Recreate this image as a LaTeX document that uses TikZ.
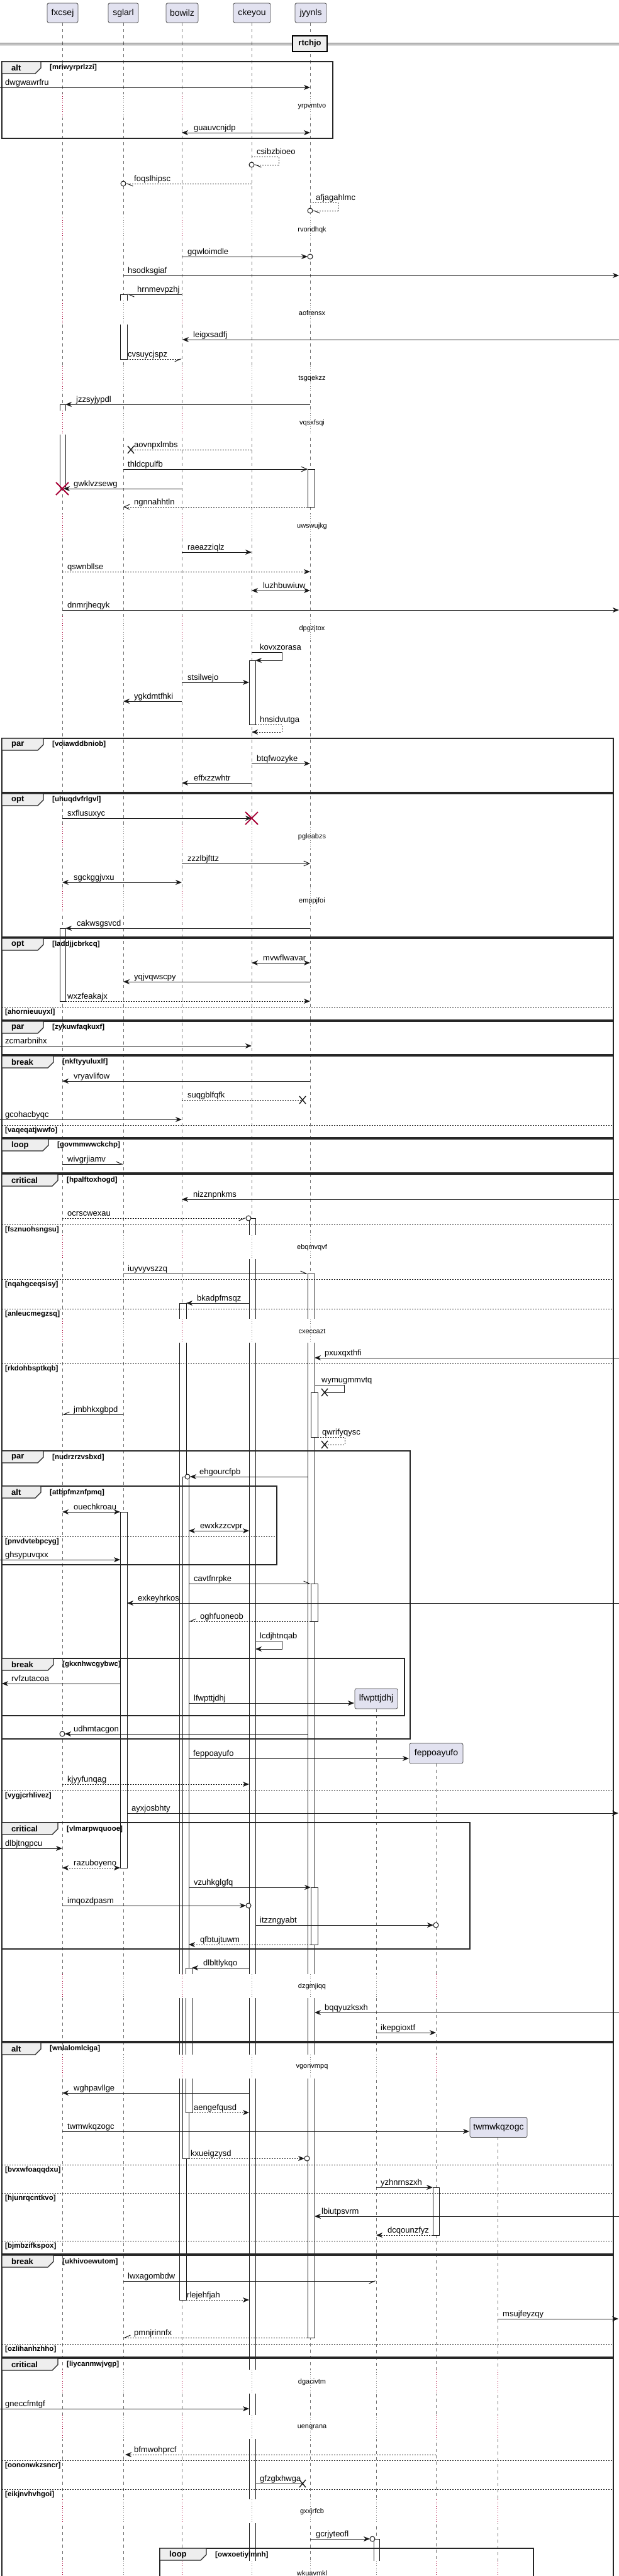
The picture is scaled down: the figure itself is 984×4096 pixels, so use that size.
\documentclass[tikz,border=0pt]{standalone}
\usepackage{fontspec}
\setmainfont{Liberation Sans}
\usetikzlibrary{arrows.meta}
\definecolor{plred}{HTML}{A80036}
\definecolor{pbox}{HTML}{E2E2F0}
\definecolor{tabg}{HTML}{EEEEEE}
\definecolor{ink}{HTML}{181818}
\newcounter{mc}
\newcommand\msgl[6]{\draw[msg,#4] (#1,#3) -- (#2,#3);\stepcounter{mc}\node[lbl] (lab\arabic{mc}) at (#5,#3-4) {#6};}
\newcommand\selfm[8]{\draw[msg,#6] (#1,#3) -- (#2,#3) -- (#2,#4) -- (#5,#4);\stepcounter{mc}\node[lbl] (lab\arabic{mc}) at (#7,#3-4) {#8};}
\newcommand\frm[7]{\draw[frm] (#1,#3) rectangle (#2,#4);
 \draw[tabsh] (#1,#3) -- ++(#5,0) -- ++(0,10) -- ++(-9,9) -- (#1,#3+19) -- cycle;
 \stepcounter{mc}\node[tabt] (tab\arabic{mc}) at (#1+15,#3+10) {#6};
 \node[condt] (cond\arabic{mc}) at (#1+#5+14,#3+10) {#7};}
\newcommand\sepl[4]{\draw[sepst] (#1,#3) -- (#2,#3);\stepcounter{mc}\node[condt] (sep\arabic{mc}) at (8,#3+8.5) {#4};}
\newcommand\actv[4]{\draw[act] (#1,#3) rectangle (#2,#4);}
\newcommand\band[3]{\foreach \px/\pw/\pc in #2 {\fill[white] (\px-12,#1-20) rectangle (\px+\pw,#1+18);\draw[dotl,\pc] (\px,#1-20) -- (\px,#1+18);}
 \stepcounter{mc}\node[dlyt] (dly\arabic{mc}) at (496,#1) {#3};}
\newcommand\xmark[2]{\draw[xx] (#1-5,#2-6) -- (#1+5,#2+6) (#1-5,#2+6) -- (#1+5,#2-6);}
\newcommand\rxmark[2]{\draw[rx] (#1-10,#2-10) -- (#1+10,#2+10) (#1-10,#2+10) -- (#1+10,#2-10);}
\def\bfive{99/13/dred,196/13/dgray,289/18/dred,400/13/dgray,493/17/dgray}
\def\bseven{99/13/dred,196/13/dgray,289/18/dred,400/13/dgray,493/17/dgray,598/13/dgray,693/13/dred}
\def\beight{99/13/dred,196/13/dgray,289/18/dred,400/13/dgray,493/17/dgray,598/13/dgray,693/13/dred,791/13/dred}
\begin{document}
\begin{tikzpicture}[x=1pt,y=-1pt,
 msg/.style={draw=ink,line width=1pt},
 dsh/.style={dash pattern=on 2pt off 2pt},
 fa/.style={-{Stealth[length=10pt,width=8pt,inset=3pt]}},
 bi/.style={{Stealth[length=10pt,width=8pt,inset=3pt]}-{Stealth[length=10pt,width=8pt,inset=3pt]}},
 oa/.style={-{Straight Barb[length=9pt,width=8pt]}},
 hl/.style={-{Straight Barb[length=9pt,width=8pt,left]}},
 hr/.style={-{Straight Barb[length=9pt,width=8pt,right]}},
 lbl/.style={anchor=base west,inner sep=0pt,font=\fontsize{13}{15}\selectfont},
 dlyt/.style={inner sep=0pt,font=\fontsize{11}{13}\selectfont},
 frm/.style={draw=black!85,line width=1.5pt},
 tabsh/.style={draw=black!85,line width=1.2pt,fill=tabg},
 tabt/.style={anchor=west,inner sep=0pt,font=\fontsize{13}{15}\selectfont\bfseries},
 condt/.style={anchor=west,inner sep=0pt,font=\fontsize{11.5}{13}\selectfont\bfseries},
 sepst/.style={draw=black!85,line width=1pt,dash pattern=on 2pt off 2pt},
 life/.style={draw=black!55,line width=0.6pt,dash pattern=on 5pt off 5pt},
 act/.style={draw=ink,line width=0.8pt,fill=white},
 part/.style={draw=black!70,line width=0.8pt,fill=pbox,rounded corners=2.5pt,minimum height=31pt,inner sep=0pt,font=\fontsize{14}{16}\selectfont},
 dotl/.style={line width=0.9pt,dash pattern=on 1pt off 2.5pt},
 dred/.style={draw=plred}, dgray/.style={draw=black!50},
 circ/.style={draw=ink,line width=1pt,fill=white},
 xx/.style={draw=ink,line width=1.4pt},
 rx/.style={draw=plred,line width=1.8pt}]
\useasboundingbox (0,0) rectangle (984,4096);
\fill[white] (0,0) rectangle (984,4096);
% lifelines
\foreach \lx in {99,196,289,400,493} {\draw[life] (\lx,36) -- (\lx,4110);}
\draw[life] (598,2717) -- (598,4110);
\draw[life] (693,2804) -- (693,4110);
\draw[life] (791,3398) -- (791,4110);
% activations
\actv{191}{202}{468}{571}
\actv{95}{104}{643}{777}
\actv{489}{500}{746}{806}
\actv{396}{406}{1050}{1152}
\actv{95}{104}{1476}{1592}
\actv{396}{406}{1937}{4110}
\actv{489}{500}{2025}{3717}
\actv{285}{296}{2072}{3657}
\actv{494}{505}{2214}{2285}
\actv{290}{300}{2348}{3432}
\actv{191}{202}{2404}{2970}
\actv{494}{505}{2518}{2578}
\actv{494}{505}{3001}{3092}
\actv{295}{305}{3129}{3359}
\actv{688}{698}{3478}{3554}
\actv{594}{603}{4037}{4110}
% delays
\band{169}{\bfive}{yrpvmtvo}
\band{366}{\bfive}{rvondhqk}
\band{498}{\bfive}{aofrensx}
\band{602}{\bfive}{tsgqekzz}
\band{673}{\bfive}{vqsxfsqi}
\band{837}{\bfive}{uwswujkg}
\band{1000}{\bfive}{dpgzjtox}
\band{1331}{\bfive}{pgleabzs}
\band{1433}{\bfive}{emppjfoi}
\band{1984}{\bfive}{ebqmvqvf}
\band{2117}{\bfive}{cxeccazt}
\band{3159}{\bseven}{dzgmjiqq}
\band{3287}{\bseven}{vgonvmpq}
\band{3788}{\beight}{dgacivtm}
\band{3860}{\beight}{uenqrana}
\band{3994}{\beight}{gxxjrfcb}
\band{4092}{\beight}{wkuavmkl}
% frames
\frm{3}{529}{98}{220}{62}{alt}{[mriwyrprlzzi]}
\frm{3}{975}{1174}{1260}{66}{par}{[voiawddbniob]}
\frm{3}{975}{1262}{1490}{66}{opt}{[uhuqdvfrlgvl]}
\frm{3}{975}{1492}{1622}{66}{opt}{[laddjjcbrkcq]}
\sepl{3}{975}{1601}{[ahornieuuyxl]}
\frm{3}{975}{1624}{1677}{66}{par}{[zykuwfaqkuxf]}
\frm{3}{975}{1679}{1809}{82}{break}{[nkftyyuluxlf]}
\sepl{3}{975}{1789}{[vaqeqatjwwfo]}
\frm{3}{975}{1811}{1865}{74}{loop}{[govmmwwckchp]}
\frm{3}{975}{1867}{3246}{89}{critical}{[hpalftoxhogd]}
\sepl{3}{975}{1947}{[fsznuohsngsu]}
\sepl{3}{975}{2034}{[nqahgceqsisy]}
\sepl{3}{975}{2081}{[anleucmegzsq]}
\sepl{3}{975}{2168}{[rkdohbsptkqb]}
\sepl{3}{975}{2847}{[vygjcrhlivez]}
\frm{3}{652}{2307}{2765}{66}{par}{[nudrzrzvsbxd]}
\frm{3}{440}{2363}{2488}{62}{alt}{[atbpfmznfpmq]}
\sepl{3}{440}{2443}{[pnvdvtebpcyg]}
\frm{3}{643}{2637}{2728}{82}{break}{[gkxnhwcgybwc]}
\frm{3}{747}{2898}{3099}{89}{critical}{[vlmarpwquooe]}
\frm{3}{975}{3248}{3584}{62}{alt}{[wnlalomlciga]}
\sepl{3}{975}{3442}{[bvxwfoaqqdxu]}
\sepl{3}{975}{3487}{[hjunrqcntkvo]}
\sepl{3}{975}{3563}{[bjmbzifkspox]}
\frm{3}{975}{3586}{3748}{82}{break}{[ukhivoewutom]}
\sepl{3}{975}{3727}{[ozlihanhzhho]}
\frm{3}{975}{3750}{4120}{89}{critical}{[liycanmwjvgp]}
\sepl{3}{975}{3912}{[oononwkzsncr]}
\sepl{3}{975}{3958}{[eikjnvhvhgoi]}
\frm{254}{848}{4052}{4120}{74}{loop}{[owxoetiylmnh]}
% participants
\node[part,minimum width=49pt] (fxcsej) at (99.5,20.5) {fxcsej};
\node[part,minimum width=48pt] (sglarl) at (196,20.5) {sglarl};
\node[part,minimum width=51pt] (bowilz) at (289.5,20.5) {bowilz};
\node[part,minimum width=59pt] (ckeyou) at (400.5,20.5) {ckeyou};
\node[part,minimum width=50pt] (jyynls) at (494,20.5) {jyynls};
\node[part,minimum width=68pt,minimum height=32pt] (lfwpttjdhj) at (598,2701) {lfwpttjdhj};
\node[part,minimum width=85pt,minimum height=32pt] (feppoayufo) at (693.5,2788) {feppoayufo};
\node[part,minimum width=91pt,minimum height=32pt] (twmwkqzogc) at (792.5,3382.5) {twmwkqzogc};
% divider
\draw[draw=ink,line width=1pt] (0,68) -- (984,68) (0,71.5) -- (984,71.5);
\node[draw=black,line width=1.5pt,fill=tabg,minimum width=55pt,minimum height=25pt,inner sep=0pt,font=\fontsize{13}{15}\selectfont\bfseries] (rtchjo) at (492.5,69.5) {rtchjo};
% messages
\msgl{0}{493}{139}{fa}{8}{dwgwawrfru}
\msgl{289}{493}{211}{bi}{308}{guauvcnjdp}
\selfm{400}{443}{249}{262}{404}{dsh,hl}{408}{csibzbioeo}
\draw[circ] (400,262) circle (4);
\msgl{400}{200}{292}{dsh,hl}{213}{foqslhipsc}
\draw[circ] (196,292) circle (4);
\selfm{493}{537}{322}{335}{497}{dsh,hl}{502}{afjagahlmc}
\draw[circ] (493,335) circle (4);
\msgl{289}{489}{408}{fa}{298}{gqwloimdle}
\draw[circ] (493,408) circle (4);
\msgl{196}{984}{438}{fa}{203}{hsodksgiaf}
\msgl{289}{202}{468}{hl}{218}{hrnmevpzhj}
\msgl{984}{290}{540}{fa}{307}{leigxsadfj}
\msgl{202}{289}{571}{dsh,hr}{203}{cvsuycjspz}
\msgl{493}{104}{643}{fa}{121}{jzzsyjypdl}
\msgl{400}{208}{715}{dsh}{213}{aovnpxlmbs}
\xmark{208}{715}
\msgl{196}{489}{746}{oa}{203}{thldcpulfb}
\msgl{289}{101}{777}{fa}{117}{gwklvzsewg}
\rxmark{99}{777}
\msgl{489}{196}{806}{dsh,oa}{213}{ngnnahhtln}
\msgl{289}{400}{878}{fa}{298}{raeazziqlz}
\msgl{99}{493}{909}{dsh,fa}{107}{qswnbllse}
\msgl{400}{493}{939}{bi}{418}{luzhbuwiuw}
\msgl{99}{984}{970}{fa}{107}{dnmrjheqyk}
\selfm{400}{448}{1037}{1050}{406}{fa}{413}{kovxzorasa}
\msgl{289}{396}{1085}{fa}{298}{stsilwejo}
\msgl{289}{196}{1115}{fa}{213}{ygkdmtfhki}
\selfm{406}{448}{1152}{1164}{400}{dsh,fa}{413}{hnsidvutga}
\msgl{400}{493}{1214}{fa}{408}{btqfwozyke}
\msgl{400}{289}{1245}{fa}{308}{effxzzwhtr}
\msgl{99}{400}{1301}{fa}{107}{sxflusuxyc}
\rxmark{400}{1301}
\msgl{289}{493}{1373}{oa}{298}{zzzlbjfttz}
\msgl{99}{289}{1403}{bi}{117}{sgckggjvxu}
\msgl{493}{104}{1476}{fa}{122}{cakwsgsvcd}
\msgl{400}{493}{1531}{bi}{418}{mvwflwavar}
\msgl{493}{196}{1561}{fa}{213}{yqjvqwscpy}
\msgl{104}{493}{1592}{dsh,fa}{107}{wxzfeakajx}
\msgl{0}{400}{1663}{fa}{8}{zcmarbnihx}
\msgl{493}{99}{1719}{fa}{117}{vryavlifow}
\msgl{289}{481}{1749}{dsh}{298}{suqgblfqfk}
\xmark{481}{1749}
\msgl{0}{289}{1780}{fa}{8}{gcohacbyqc}
\msgl{99}{196}{1851}{hl}{107}{wivgrjiamv}
\msgl{984}{289}{1907}{fa}{307}{nizznpnkms}
\msgl{99}{391}{1937}{dsh,hr}{107}{ocrscwexau}
\draw[circ] (395,1937) circle (4);
\msgl{196}{489}{2025}{hl}{203}{iuyvyvszzq}
\msgl{396}{296}{2072}{fa}{313}{bkadpfmsqz}
\msgl{984}{500}{2159}{fa}{516}{pxuxqxthfi}
\selfm{500}{547}{2202}{2214}{516}{}{511}{wymugmmvtq}
\xmark{516}{2214}
\msgl{196}{99}{2249}{hr}{117}{jmbhkxgbpd}
\selfm{505}{548}{2285}{2297}{516}{dsh}{512}{qwrifyqysc}
\xmark{516}{2297}
\msgl{489}{302}{2348}{fa}{317}{ehgourcfpb}
\draw[circ] (298,2348) circle (4);
\msgl{99}{191}{2404}{bi}{117}{ouechkroau}
\msgl{300}{396}{2434}{bi}{318}{ewxkzzcvpr}
\msgl{0}{191}{2480}{fa}{8}{ghsypuvqxx}
\msgl{300}{494}{2518}{hl}{308}{cavtfnrpke}
\msgl{984}{202}{2549}{fa}{219}{exkeyhrkos}
\msgl{494}{300}{2578}{dsh,hr}{318}{oghfuoneob}
\selfm{406}{448}{2609}{2622}{406}{fa}{413}{lcdjhtnqab}
\msgl{191}{3}{2677}{fa}{18}{rvfzutacoa}
\msgl{300}{563}{2708}{fa}{308}{lfwpttjdhj}
\msgl{489}{103}{2757}{fa}{117}{udhmtacgon}
\draw[circ] (99,2757) circle (4);
\msgl{300}{650}{2796}{fa}{307}{feppoayufo}
\msgl{99}{396}{2837}{dsh,fa}{107}{kjyyfunqag}
\msgl{202}{983}{2883}{fa}{209}{ayxjosbhty}
\msgl{0}{99}{2939}{fa}{8}{dlbjtngpcu}
\msgl{99}{191}{2970}{dsh,bi}{117}{razuboyeno}
\msgl{300}{494}{3001}{fa}{308}{vzuhkglgfq}
\msgl{99}{391}{3030}{fa}{107}{imqozdpasm}
\draw[circ] (395,3030) circle (4);
\msgl{406}{689}{3061}{fa}{413}{itzzngyabt}
\draw[circ] (693,3061) circle (4);
\msgl{494}{300}{3092}{dsh,fa}{318}{qfbtujtuwm}
\msgl{396}{305}{3129}{fa}{323}{dlbltlykqo}
\msgl{984}{500}{3200}{fa}{516}{bqqyuzksxh}
\msgl{598}{693}{3232}{fa}{605}{ikepgioxtf}
\msgl{396}{99}{3328}{fa}{117}{wghpavllge}
\msgl{305}{396}{3359}{dsh,fa}{308}{aengefqusd}
\msgl{99}{746}{3389}{fa}{107}{twmwkqzogc}
\msgl{300}{484}{3432}{dsh,fa}{303}{kxueigzysd}
\draw[circ] (488,3432) circle (4);
\msgl{598}{688}{3478}{fa}{605}{yzhnrnszxh}
\msgl{984}{500}{3524}{fa}{511}{lbiutpsvrm}
\msgl{688}{598}{3554}{dsh,fa}{616}{dcqounzfyz}
\msgl{196}{598}{3627}{hr}{203}{lwxagombdw}
\msgl{296}{396}{3657}{dsh,fa}{297}{rlejehfjah}
\msgl{791}{983}{3687}{fa}{799}{msujfeyzqy}
\msgl{489}{196}{3717}{dsh,hr}{213}{pmnjrinnfx}
\msgl{0}{396}{3830}{fa}{8}{gneccfmtgf}
\msgl{693}{199}{3903}{dsh,fa}{213}{bfmwohprcf}
\msgl{406}{481}{3949}{}{413}{gfzglxhwga}
\xmark{481}{3949}
\msgl{493}{588}{4037}{fa}{502}{gcrjyteofl}
\draw[circ] (592,4037) circle (4);
\end{tikzpicture}
\end{document}
